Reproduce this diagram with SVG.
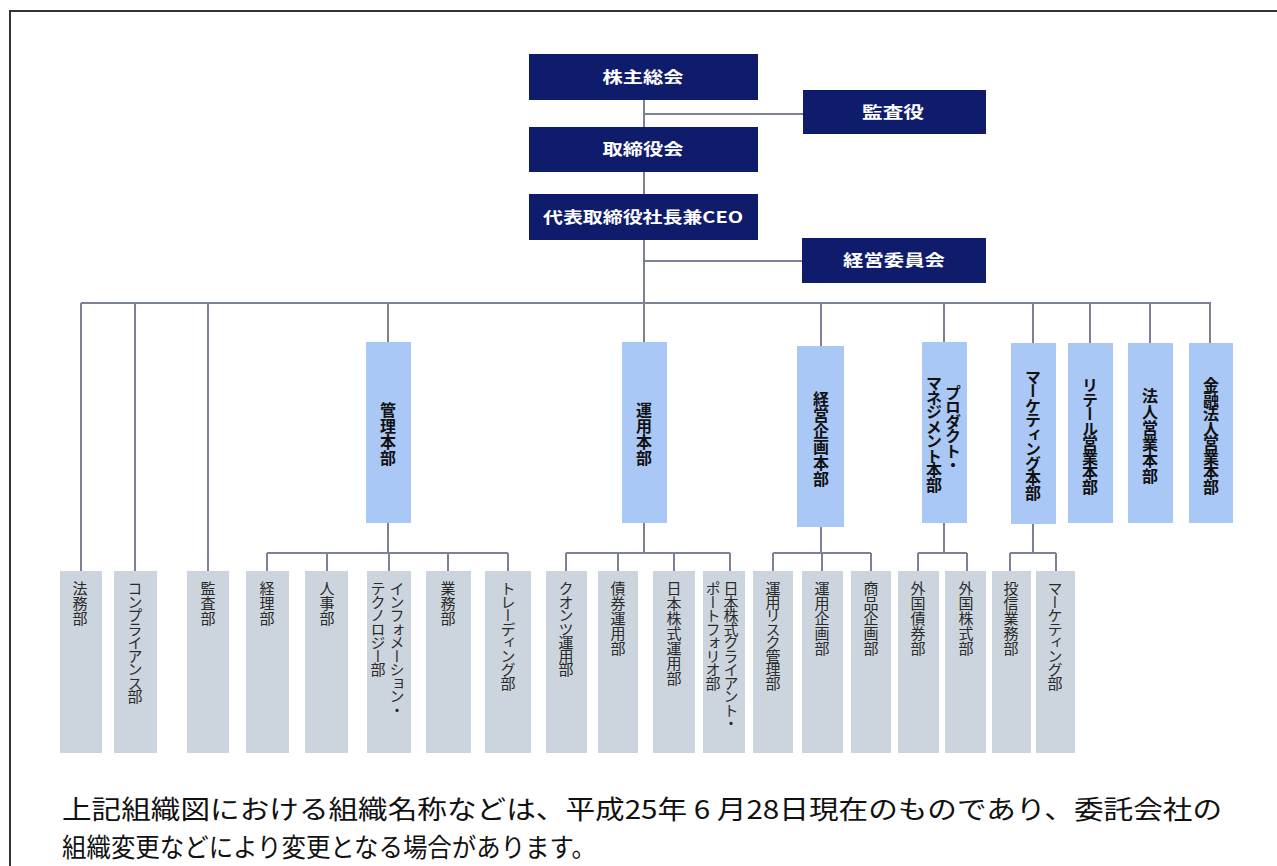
<svg xmlns="http://www.w3.org/2000/svg" width="1277" height="866" viewBox="0 0 1277 866">
<style>
.top{fill:#0f1c6b}
.tt{fill:#ffffff;font-family:"Noto Sans CJK JP","Noto Sans",sans-serif;font-weight:bold;font-size:16px;text-anchor:middle}
.bl{fill:#a9c8f6}
.bt{fill:#111111;font-family:"Noto Sans CJK JP",sans-serif;font-weight:bold;font-size:16px;writing-mode:vertical-rl;text-anchor:middle}
.gr{fill:#ccd5dd}
.gt{fill:#2a2a2a;font-family:"Noto Sans CJK JP",sans-serif;font-size:15px;writing-mode:vertical-rl;text-anchor:start}
.k{letter-spacing:-1.5px}
.ln{stroke:#7c8197;stroke-width:2;fill:none}
.ft{fill:#111111;font-family:"Noto Sans CJK JP",sans-serif;font-size:26px}
</style>
<rect x="0" y="0" width="1277" height="866" fill="#ffffff"/>
<rect x="10" y="11" width="1300" height="900" fill="none" stroke="#333333" stroke-width="2"/>

<g id="connectors" class="ln">
<path d="M644 100V342"/>
<path d="M644 114H803"/>
<path d="M644 261H802"/>
<path d="M81 303H1211"/>
<path d="M81 303V571M135 303V571M208 303V571"/>
<path d="M388 303V342M821 303V346M944 303V342M1033 303V343M1090 303V343M1150 303V343M1210 303V343"/>
<path d="M388 523V553M644 523V553M821 527V553M944 523V553M1033 524V553"/>
<path d="M267 553H508M566 553H730M773 553H871M918 553H967M1010 553H1056"/>
<path d="M267 553V571M327 553V571M389 553V571M448 553V571M508 553V571"/>
<path d="M566 553V571M618 553V571M674 553V571M730 553V571"/>
<path d="M773 553V571M822 553V571M871 553V571"/>
<path d="M918 553V571M967 553V571M1010 553V571M1056 553V571"/>
</g>

<g id="n-kabunushi"><rect class="top" x="529" y="54" width="229" height="46"/><text class="tt" x="643" y="83" textLength="81" lengthAdjust="spacingAndGlyphs">株主総会</text></g>
<g id="n-kansayaku"><rect class="top" x="803" y="90" width="183" height="44"/><text class="tt" x="893" y="118" textLength="62" lengthAdjust="spacingAndGlyphs">監査役</text></g>
<g id="n-torishimariyakukai"><rect class="top" x="529" y="127" width="229" height="45"/><text class="tt" x="643" y="155" textLength="81" lengthAdjust="spacingAndGlyphs">取締役会</text></g>
<g id="n-ceo"><rect class="top" x="529" y="194" width="229" height="46"/><text class="tt" x="643" y="223" textLength="200" lengthAdjust="spacingAndGlyphs">代表取締役社長兼CEO</text></g>
<g id="n-keiei-iinkai"><rect class="top" x="802" y="238" width="184" height="45"/><text class="tt" x="894" y="266" textLength="102" lengthAdjust="spacingAndGlyphs">経営委員会</text></g>

<g id="n-kanri"><rect class="bl" x="366" y="342" width="45" height="181"/><text class="bt" x="388" y="434">管理本部</text></g>
<g id="n-unyo"><rect class="bl" x="622" y="342" width="45" height="181"/><text class="bt" x="644" y="434">運用本部</text></g>
<g id="n-keieikikaku"><rect class="bl" x="797" y="346" width="47" height="181"/><text class="bt" x="821" y="439">経営企画本部</text></g>
<g id="n-product"><rect class="bl" x="922" y="342" width="45" height="181"/><text class="bt k" x="953" y="428">プロダクト・</text><text class="bt k" x="934" y="433">マネジメント本部</text></g>
<g id="n-marketing"><rect class="bl" x="1011" y="343" width="45" height="181"/><text class="bt k" x="1033" y="434">マーケティング本部</text></g>
<g id="n-retail"><rect class="bl" x="1068" y="343" width="45" height="180"/><text class="bt k" x="1090" y="435">リテール営業本部</text></g>
<g id="n-hojin"><rect class="bl" x="1128" y="343" width="45" height="180"/><text class="bt" x="1150" y="436">法人営業本部</text></g>
<g id="n-kinyuhojin"><rect class="bl" x="1189" y="343" width="44" height="180"/><text class="bt k" x="1211" y="435">金融法人営業本部</text></g>

<g id="n-homu"><rect class="gr" x="60" y="571" width="42" height="182"/><text class="gt" x="80" y="581">法務部</text></g>
<g id="n-compliance"><rect class="gr" x="114" y="571" width="43" height="182"/><text class="gt k" x="135" y="581">コンプライアンス部</text></g>
<g id="n-kansa"><rect class="gr" x="187" y="571" width="42" height="182"/><text class="gt" x="208" y="581">監査部</text></g>
<g id="n-keiri"><rect class="gr" x="246" y="571" width="43" height="182"/><text class="gt" x="267" y="581">経理部</text></g>
<g id="n-jinji"><rect class="gr" x="305" y="571" width="43" height="182"/><text class="gt" x="327" y="581">人事部</text></g>
<g id="n-it"><rect class="gr" x="367" y="571" width="44" height="182"/><text class="gt k" x="397" y="581">インフォメーション・</text><text class="gt k" x="378" y="581">テクノロジー部</text></g>
<g id="n-gyomu"><rect class="gr" x="426" y="571" width="45" height="182"/><text class="gt" x="448" y="581">業務部</text></g>
<g id="n-trading"><rect class="gr" x="485" y="571" width="46" height="182"/><text class="gt k" x="508" y="581">トレーディング部</text></g>
<g id="n-quant"><rect class="gr" x="546" y="571" width="41" height="182"/><text class="gt k" x="566" y="581">クオンツ運用部</text></g>
<g id="n-saiken"><rect class="gr" x="598" y="571" width="40" height="182"/><text class="gt" x="618" y="581">債券運用部</text></g>
<g id="n-nihonkabu"><rect class="gr" x="653" y="571" width="42" height="182"/><text class="gt" x="674" y="581">日本株式運用部</text></g>
<g id="n-client"><rect class="gr" x="703" y="571" width="42" height="182"/><text class="gt k" x="731" y="581">日本株式クライアント・</text><text class="gt k" x="713" y="581">ポートフォリオ部</text></g>
<g id="n-risk"><rect class="gr" x="753" y="571" width="40" height="182"/><text class="gt k" x="773" y="581">運用リスク管理部</text></g>
<g id="n-unyokikaku"><rect class="gr" x="802" y="571" width="41" height="182"/><text class="gt" x="822" y="581">運用企画部</text></g>
<g id="n-shohin"><rect class="gr" x="851" y="571" width="40" height="182"/><text class="gt" x="871" y="581">商品企画部</text></g>
<g id="n-gaisai"><rect class="gr" x="898" y="571" width="41" height="182"/><text class="gt" x="918" y="581">外国債券部</text></g>
<g id="n-gaikabu"><rect class="gr" x="945" y="571" width="41" height="182"/><text class="gt" x="966" y="581">外国株式部</text></g>
<g id="n-toshin"><rect class="gr" x="992" y="571" width="39" height="182"/><text class="gt" x="1011" y="581">投信業務部</text></g>
<g id="n-marketing-bu"><rect class="gr" x="1036" y="571" width="39" height="182"/><text class="gt k" x="1055" y="581">マーケティング部</text></g>

<g id="footer">
<text class="ft" x="62" y="819" textLength="1160" lengthAdjust="spacingAndGlyphs">上記組織図における組織名称などは、平成25年 6 月28日現在のものであり、委託会社の</text>
<text class="ft" x="62" y="857" textLength="534" lengthAdjust="spacingAndGlyphs">組織変更などにより変更となる場合があります。</text>
</g>
</svg>
